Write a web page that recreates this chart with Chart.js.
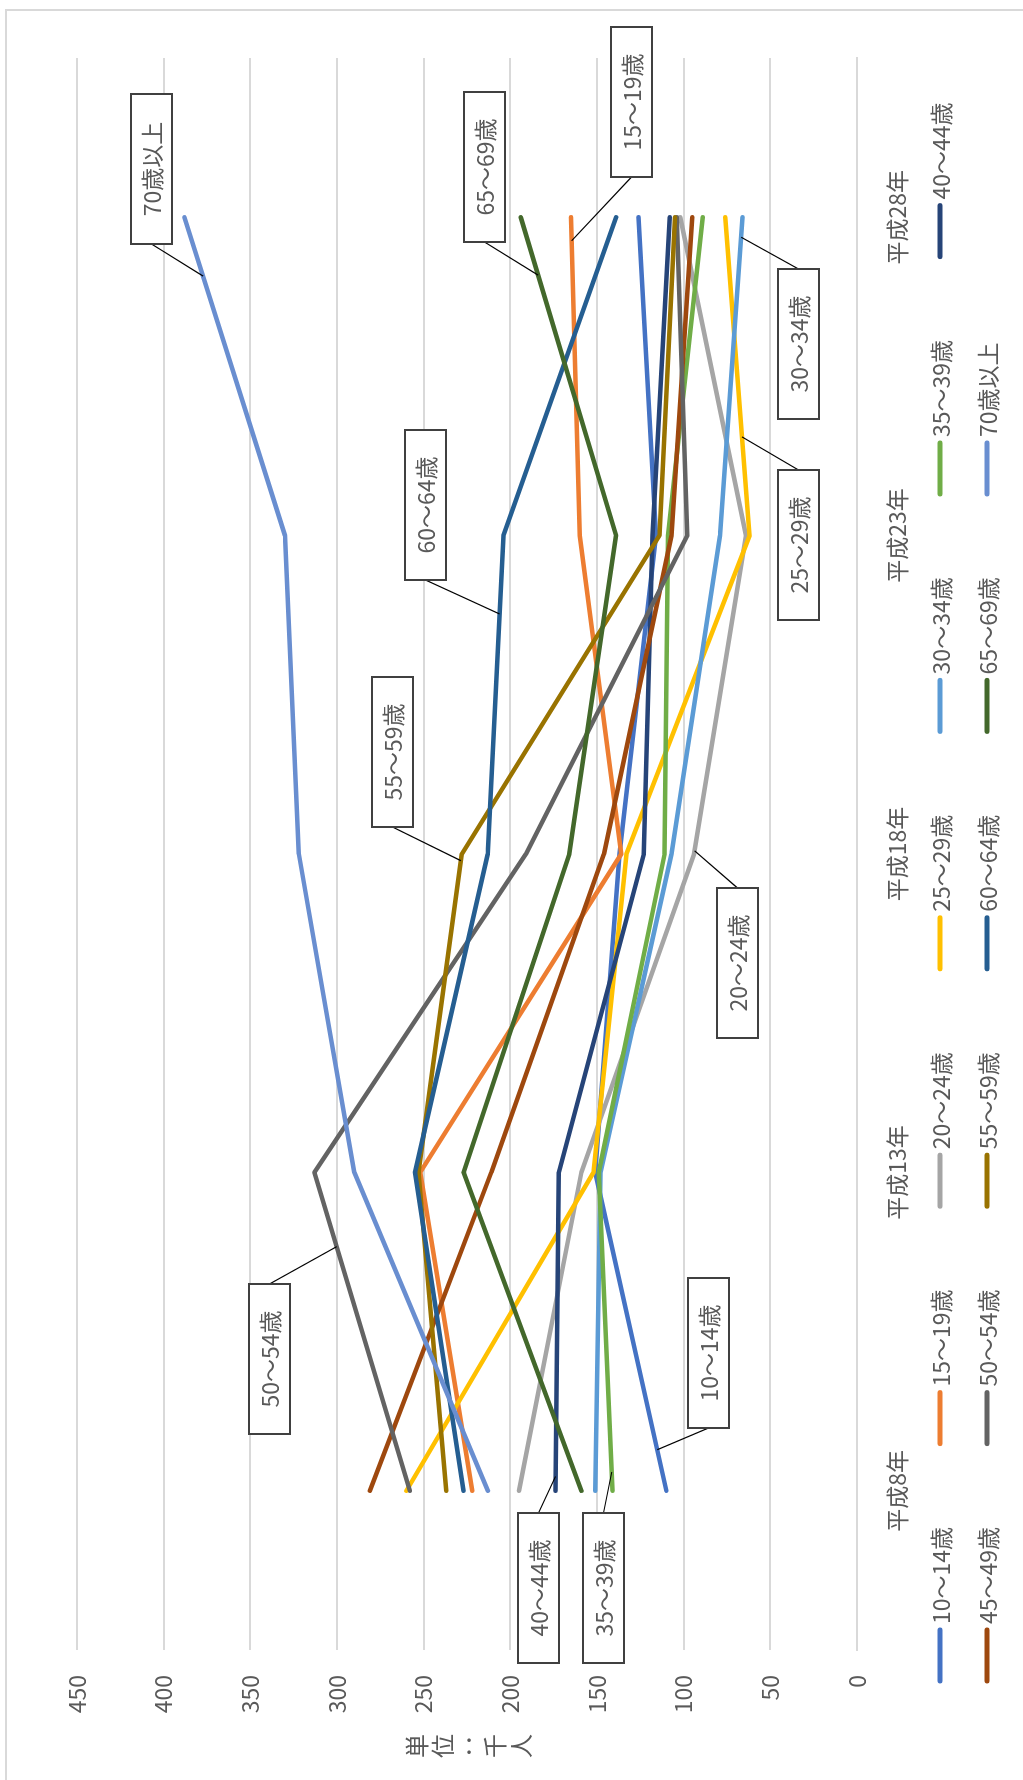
<!DOCTYPE html>
<html lang="ja">
<head>
<meta charset="utf-8">
<title>年齢階級別人数の推移</title>
<script src="https://cdn.jsdelivr.net/npm/chart.js@4.4.1/dist/chart.umd.min.js"></script>
<style>
  html, body { margin: 0; padding: 0; background: #ffffff; }
  body { width: 1023px; height: 1780px; overflow: hidden; position: relative; }
  /* the chart is laid out landscape and turned a quarter turn counter-clockwise */
  #frame {
    position: absolute; left: 0; top: 0;
    width: 1780px; height: 1023px;
    transform-origin: 0 0;
    transform: translate(0, 1780px) rotate(-90deg);
    background: #ffffff;
  }
  #frame canvas { position: absolute; left: 0; top: 0; }
  #outline {
    position: absolute; left: -10px; top: 5px;
    width: 1781px; height: 1100px;
    border-top: 2px solid #d9d9d9; border-right: 2px solid #d9d9d9;
    box-sizing: border-box; pointer-events: none;
  }
</style>
</head>
<body>
<div id="frame">
  <canvas id="chart" width="1780" height="1023"></canvas>
  <div id="outline"></div>
</div>
<script>
// ---- data -------------------------------------------------------------
const years = ['平成8年', '平成13年', '平成18年', '平成23年', '平成28年'];
const valueTicks = [0, 50, 100, 150, 200, 250, 300, 350, 400, 450];

const age10_14 = [110, 151, 137, 116, 126];
const age15_19 = [222, 252, 136, 160, 165];
const age20_24 = [195, 159, 94, 64, 102];
const age25_29 = [260, 152, 133, 62, 76];
const age30_34 = [151, 148, 107, 79, 66];
const age35_39 = [141, 149, 111, 109, 89];
const age40_44 = [174, 172, 123, 118, 108];
const age45_49 = [281, 211, 146, 107, 95];
const age50_54 = [258, 313, 191, 98, 104];
const age55_59 = [237, 253, 228, 114, 105];
const age60_64 = [227, 255, 213, 204, 139];
const age65_69 = [159, 227, 166, 139, 194];
const age70up  = [213, 290, 322, 330, 388];

const seriesNames = ['10～14歳', '15～19歳', '20～24歳', '25～29歳', '30～34歳', '35～39歳', '40～44歳',
                     '45～49歳', '50～54歳', '55～59歳', '60～64歳', '65～69歳', '70歳以上'];
const seriesValues = [age10_14, age15_19, age20_24, age25_29, age30_34, age35_39, age40_44,
                      age45_49, age50_54, age55_59, age60_64, age65_69, age70up];
const seriesColors = ['#4472C4', '#ED7D31', '#A5A5A5', '#FFC000', '#5B9BD5', '#70AD47', '#264478',
                      '#9E480E', '#636363', '#997300', '#255E91', '#43682B', '#698ED0'];

// callout boxes: series, position along the line (category index), box corner, leader side
const callouts = [
  { s: 12, t: 3.815, x: 1536, y: 131, side: 'left' },
  { s: 11, t: 3.818, x: 1538, y: 464, side: 'left' },
  { s: 1,  t: 3.926, x: 1603, y: 611, side: 'left' },
  { s: 4,  t: 3.937, x: 1361, y: 778, side: 'right' },
  { s: 3,  t: 3.310, x: 1160, y: 778, side: 'right' },
  { s: 10, t: 2.754, x: 1200, y: 405, side: 'left' },
  { s: 9,  t: 1.979, x: 953,  y: 372, side: 'left' },
  { s: 2,  t: 2.010, x: 742,  y: 717, side: 'right' },
  { s: 8,  t: 0.767, x: 346,  y: 249, side: 'right' },
  { s: 0,  t: 0.129, x: 352,  y: 688, side: 'left' },
  { s: 6,  t: 0.045, x: 117,  y: 518, side: 'right' },
  { s: 5,  t: 0.059, x: 117,  y: 583, side: 'right' }
];

// ---- styling ----------------------------------------------------------
const FONT = '"Noto Sans CJK JP", "Noto Sans CJK SC", "Noto Sans", sans-serif';
const TEXT = '#595959';
const GRID = '#d9d9d9';
const BOX_W = 150, BOX_H = 41;

// callout labels with leader lines
const calloutPlugin = {
  id: 'callouts',
  afterDatasetsDraw(chart) {
    const ctx = chart.ctx;
    const xs = chart.scales.x, ys = chart.scales.y;
    ctx.save();
    callouts.forEach(c => {
      const vals = seriesValues[c.s];
      const i = Math.min(Math.floor(c.t), vals.length - 2);
      const f = c.t - i;
      const v = vals[i] + (vals[i + 1] - vals[i]) * f;
      const px = xs.getPixelForValue(c.t);
      const py = ys.getPixelForValue(v);
      const sx = c.side === 'left' ? c.x : c.x + BOX_W;
      const sy = c.y + BOX_H / 2;
      ctx.strokeStyle = '#000000';
      ctx.lineWidth = 1.2;
      ctx.beginPath();
      ctx.moveTo(sx, sy);
      ctx.lineTo(px, py);
      ctx.stroke();
      ctx.fillStyle = '#ffffff';
      ctx.fillRect(c.x, c.y, BOX_W, BOX_H);
      ctx.strokeStyle = '#404040';
      ctx.lineWidth = 2;
      ctx.strokeRect(c.x, c.y, BOX_W, BOX_H);
      ctx.fillStyle = TEXT;
      ctx.font = '23px ' + FONT;
      ctx.textAlign = 'center';
      ctx.textBaseline = 'middle';
      ctx.fillText(seriesNames[c.s], c.x + BOX_W / 2, c.y + BOX_H / 2 + 1);
    });
    ctx.restore();
  }
};

// two-row legend and the vertically written unit caption
const legendPlugin = {
  id: 'sideLegend',
  afterDraw(chart) {
    const ctx = chart.ctx;
    ctx.save();
    const startX = 99, step = 237.4, rowY = [940, 987];
    seriesNames.forEach((name, i) => {
      const row = i < 7 ? 0 : 1;
      const col = i < 7 ? i : i - 7;
      const x = startX + col * step;
      const y = rowY[row];
      ctx.strokeStyle = seriesColors[i];
      ctx.lineWidth = 5;
      ctx.lineCap = 'round';
      ctx.beginPath();
      ctx.moveTo(x, y);
      ctx.lineTo(x + 51, y);
      ctx.stroke();
      ctx.fillStyle = TEXT;
      ctx.font = '23px ' + FONT;
      ctx.textAlign = 'left';
      ctx.textBaseline = 'middle';
      ctx.fillText(name, x + 57, y + 1);
    });
    // unit caption in vertical writing; the colon turns with the text direction
    const unit = ['単', '位', '：', '千', '人'];
    ctx.font = '24px ' + FONT;
    ctx.textAlign = 'center';
    ctx.textBaseline = 'middle';
    ctx.fillStyle = TEXT;
    unit.forEach((ch, k) => {
      const cy = 417 + k * 26;
      if (ch === '：') {
        ctx.save();
        ctx.translate(34, cy);
        ctx.rotate(Math.PI / 2);
        ctx.fillText(ch, 0, 0);
        ctx.restore();
      } else {
        ctx.fillText(ch, 34, cy);
      }
    });
    ctx.restore();
  }
};

const datasets = seriesNames.map((name, i) => ({
  label: name,
  data: seriesValues[i],
  borderColor: seriesColors[i],
  backgroundColor: seriesColors[i],
  borderWidth: 4.5,
  borderCapStyle: 'round',
  borderJoinStyle: 'round',
  pointRadius: 0,
  pointHoverRadius: 0,
  tension: 0,
  fill: false,
  order: -i
}));

new Chart(document.getElementById('chart'), {
  type: 'line',
  data: { labels: years, datasets },
  options: {
    responsive: false,
    animation: false,
    events: [],
    layout: { padding: { top: 77, right: 58, bottom: 0, left: 0 } },
    plugins: { legend: { display: false }, tooltip: { enabled: false }, title: { display: false } },
    scales: {
      x: {
        type: 'category',
        offset: true,
        grid: { display: false, drawTicks: false },
        border: { display: true, color: GRID, width: 2 },
        ticks: { color: TEXT, font: { family: FONT, size: 23 }, padding: 26, maxRotation: 0, autoSkip: false },
        afterFit(scale) { scale.height = 166; }
      },
      y: {
        min: 0, max: 450,
        grid: { color: GRID, lineWidth: 2, drawTicks: false },
        border: { display: false },
        ticks: { color: TEXT, font: { family: FONT, size: 23 }, padding: 25 },
        afterBuildTicks(scale) { scale.ticks = valueTicks.map(v => ({ value: v })); },
        afterFit(scale) { scale.width = 130; }
      }
    }
  },
  plugins: [calloutPlugin, legendPlugin]
});
</script>
</body>
</html>
